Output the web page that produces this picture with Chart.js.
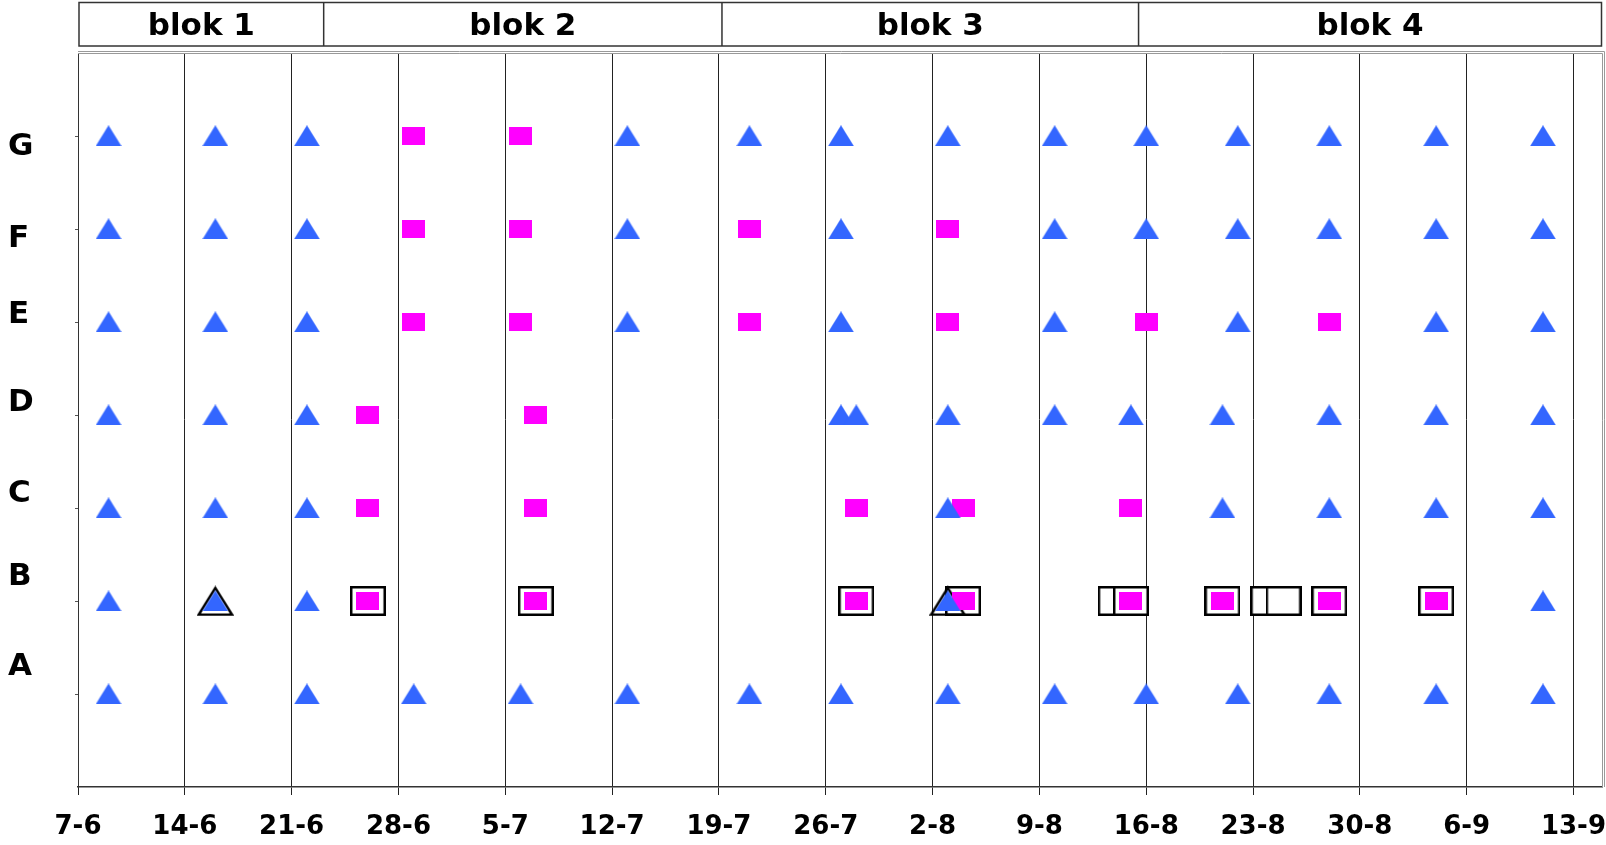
<!DOCTYPE html>
<html>
<head>
<meta charset="utf-8">
<script src="https://cdn.jsdelivr.net/npm/chart.js@4.4.1/dist/chart.umd.min.js"></script>
<style>
  html, body { margin: 0; padding: 0; background: #fff; }
  canvas { display: block; }
</style>
</head>
<body>
<canvas id="c" width="1606" height="845"></canvas>
<script>
// ---- data ----
const tickDays   = [0, 7, 14, 21, 28, 35, 42, 49, 56, 63, 70, 77, 84, 91, 98];
const tickLabels = ['7-6','14-6','21-6','28-6','5-7','12-7','19-7','26-7','2-8','9-8','16-8','23-8','30-8','6-9','13-9'];
const rowNames    = ['A','B','C','D','E','F','G'];
const rowLabelPos = [1.295, 2.26, 3.15, 4.13, 5.07, 5.895, 6.885];
const blokNames    = ['blok 1','blok 2','blok 3','blok 4'];
const blokDividers = [16.1, 42.2, 69.5];

// triangles (blue) per row, in days after 7-6
const triA = [2, 9, 15, 22, 29, 36, 44, 50, 57, 64, 70, 76, 82, 89, 96];
const triB = [2, 9, 15, 57, 96];
const triC = [2, 9, 15, 57, 75, 82, 89, 96];
const triD = [2, 9, 15, 50, 51, 57, 64, 69, 75, 82, 89, 96];
const triE = [2, 9, 15, 36, 50, 64, 76, 89, 96];
const triF = [2, 9, 15, 36, 50, 64, 70, 76, 82, 89, 96];
const triG = [2, 9, 15, 36, 44, 50, 57, 64, 70, 76, 82, 89, 96];
// squares (pink) per row
const sqA = [];
const sqB = [19, 30, 51, 58, 69, 75, 82, 89];
const sqC = [19, 30, 51, 58, 69];
const sqD = [19, 30];
const sqE = [22, 29, 44, 57, 70, 82];
const sqF = [22, 29, 44, 57];
const sqG = [22, 29];
// highlighted markers in row B
const boxB    = [19, 30, 51, 58, 68, 69, 75, 78, 79, 82, 89];
const outTriB = [9, 57];

const triRows = [triA, triB, triC, triD, triE, triF, triG];
const sqRows  = [sqA, sqB, sqC, sqD, sqE, sqF, sqG];

function toPoints(rows) {
  const out = [];
  rows.forEach((arr, i) => arr.forEach(d => out.push({ x: d, y: i + 1 })));
  return out;
}
function rowPoints(arr, rowIndex) { return arr.map(d => ({ x: d, y: rowIndex + 1 })); }

// ---- marker images ----
function mk(w, h, draw) {
  const c = document.createElement('canvas');
  c.width = w; c.height = h;
  draw(c.getContext('2d'));
  return c;
}
const BLUE = '#3366FF', PINK = '#FF00FF';
const triImg = mk(26, 21, g => {
  g.fillStyle = BLUE; g.beginPath();
  g.moveTo(0, 21); g.lineTo(13, 0); g.lineTo(26, 21); g.closePath(); g.fill();
});
const sqImg = mk(23, 18, g => { g.fillStyle = PINK; g.fillRect(0, 0, 23, 18); });
const boxImg = mk(36, 30, g => {
  g.fillStyle = '#fff'; g.fillRect(0, 0, 36, 30);
  g.strokeStyle = '#000'; g.lineWidth = 2.5; g.strokeRect(1.25, 1.25, 33.5, 27.5);
});
const outTriImg = mk(37, 31, g => {
  g.strokeStyle = '#000'; g.lineWidth = 2.5; g.lineJoin = 'miter';
  g.beginPath(); g.moveTo(18.5, 2.5); g.lineTo(1.8, 29.3); g.lineTo(35.2, 29.3); g.closePath(); g.stroke();
});

const FONT = "'DejaVu Sans', sans-serif";

const framePlugin = {
  id: 'frame',
  beforeDatasetsDraw(chart) {
    const { ctx, chartArea: a } = chart;
    ctx.save();
    ctx.strokeStyle = '#999'; ctx.lineWidth = 1;
    ctx.beginPath();
    ctx.moveTo(a.left, a.top - 1.5); ctx.lineTo(a.right + 2.5, a.top - 1.5); ctx.lineTo(a.right + 2.5, a.bottom);
    ctx.moveTo(a.left, a.top + 0.5); ctx.lineTo(a.right + 0.5, a.top + 0.5); ctx.lineTo(a.right + 0.5, a.bottom);
    ctx.stroke();
    const ys = chart.scales.y;
    ctx.strokeStyle = '#555';
    ctx.beginPath();
    rowNames.forEach((r, i) => {
      const y = Math.round(ys.getPixelForValue(i + 1)) + 0.5;
      ctx.moveTo(a.left - 3, y); ctx.lineTo(a.left, y);
    });
    ctx.stroke();
    ctx.restore();
  },
  afterDraw(chart) {
    const { ctx, chartArea: a } = chart;
    const xs = chart.scales.x;
    const top = 2.5, bottom = 46;
    const edges = [a.left + 1].concat(blokDividers.map(d => xs.getPixelForValue(d))).concat([a.right - 0.5]);
    ctx.save();
    ctx.strokeStyle = '#333'; ctx.lineWidth = 1.5;
    ctx.strokeRect(edges[0], top, edges[edges.length - 1] - edges[0], bottom - top);
    ctx.beginPath();
    for (let i = 1; i < edges.length - 1; i++) {
      ctx.moveTo(edges[i], top); ctx.lineTo(edges[i], bottom);
    }
    ctx.stroke();
    ctx.fillStyle = '#000';
    ctx.font = 'bold 31px ' + FONT;
    ctx.textAlign = 'center'; ctx.textBaseline = 'alphabetic';
    blokNames.forEach((n, i) => {
      ctx.fillText(n, (edges[i] + edges[i + 1]) / 2, 35);
    });
    ctx.restore();
  }
};

new Chart(document.getElementById('c'), {
  type: 'scatter',
  data: {
    datasets: [
      { label: 'tri', data: toPoints(triRows), pointStyle: triImg, pointRadius: 12, showLine: false },
      { label: 'sq', data: toPoints(sqRows), pointStyle: sqImg, pointRadius: 11, showLine: false },
      { label: 'outTri', data: rowPoints(outTriB, 1), pointStyle: outTriImg, pointRadius: 16, showLine: false },
      { label: 'box', data: rowPoints(boxB, 1), pointStyle: boxImg, pointRadius: 16, showLine: false }
    ]
  },
  options: {
    responsive: false,
    animation: false,
    devicePixelRatio: 1,
    layout: { autoPadding: false, padding: { top: 53, left: 8, right: 4, bottom: 0 } },
    plugins: { legend: { display: false }, tooltip: { enabled: false } },
    scales: {
      x: {
        type: 'linear',
        min: 0, max: 99.87,
        afterBuildTicks: s => { s.ticks = tickDays.map(v => ({ value: v })); },
        afterFit: s => { s.height = 58; s.paddingLeft = 0; s.paddingRight = 0; },
        ticks: {
          autoSkip: false, maxRotation: 0, minRotation: 0,
          padding: 17,
          color: '#000',
          font: { family: FONT, size: 26, weight: 'bold' },
          callback: (v, i) => tickLabels[i]
        },
        grid: { color: '#222', lineWidth: 1, tickLength: 8, drawOnChartArea: true, drawTicks: true },
        border: { display: true, color: '#333', width: 1.5 }
      },
      y: {
        type: 'linear',
        min: 0, max: 7.89,
        afterBuildTicks: s => { s.ticks = rowLabelPos.map(v => ({ value: v })); },
        afterFit: s => { s.width = 70; s.paddingTop = 0; s.paddingBottom = 0; },
        ticks: {
          autoSkip: false,
          crossAlign: 'far',
          color: '#000',
          font: { family: FONT, size: 31, weight: 'bold' },
          callback: (v, i) => rowNames[i]
        },
        grid: { display: false },
        border: { display: true, color: '#333', width: 1 }
      }
    }
  },
  plugins: [framePlugin]
});
</script>
</body>
</html>
